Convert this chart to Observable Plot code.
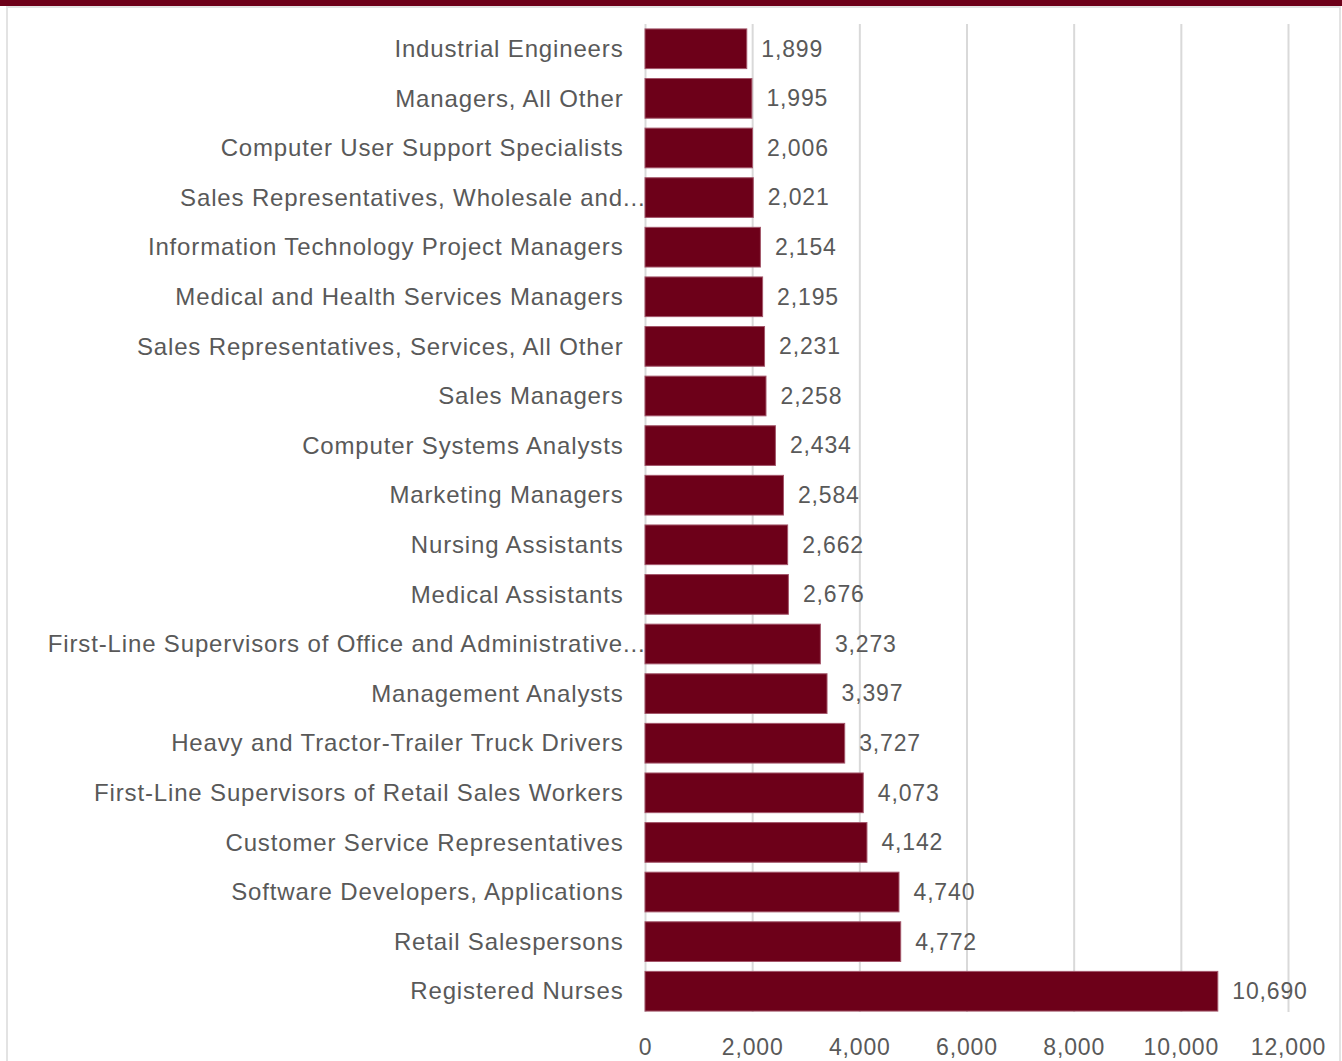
<!DOCTYPE html>
<html><head><meta charset="utf-8">
<script src="https://cdn.jsdelivr.net/npm/d3@7"></script>
<script src="https://cdn.jsdelivr.net/npm/@observablehq/plot@0.6"></script>
<style>
body{margin:0;background:#fff;}
#wrap{position:relative;width:1342px;height:1061px;overflow:hidden;background:#fff;}
#band{position:absolute;left:0;top:0;width:1342px;height:6px;background:#6d0019;}
#frame{position:absolute;left:6px;top:6px;width:1331px;height:1060px;border:2px solid #e3e3e3;border-bottom:none;}
#chart{position:absolute;left:0;top:0;}
</style></head><body>
<div id="wrap"><div id="frame"></div><div id="chart"></div><div id="band"></div></div>
<script>
const occupations = [
  "Industrial Engineers",
  "Managers, All Other",
  "Computer User Support Specialists",
  "Sales Representatives, Wholesale and...",
  "Information Technology Project Managers",
  "Medical and Health Services Managers",
  "Sales Representatives, Services, All Other",
  "Sales Managers",
  "Computer Systems Analysts",
  "Marketing Managers",
  "Nursing Assistants",
  "Medical Assistants",
  "First-Line Supervisors of Office and Administrative...",
  "Management Analysts",
  "Heavy and Tractor-Trailer Truck Drivers",
  "First-Line Supervisors of Retail Sales Workers",
  "Customer Service Representatives",
  "Software Developers, Applications",
  "Retail Salespersons",
  "Registered Nurses"
];
const openings = [1899, 1995, 2006, 2021, 2154, 2195, 2231, 2258, 2434, 2584, 2662, 2676, 3273, 3397, 3727, 4073, 4142, 4740, 4772, 10690];
const xTicks = [0, 2000, 4000, 6000, 8000, 10000, 12000];

const data = occupations.map((name, i) => ({name, value: openings[i]}));
const fmt = d3.format(",");
const truncated = d => d.endsWith("...");

const chart = Plot.plot({
  width: 1342,
  height: 1061,
  marginLeft: 645,
  marginRight: 54,
  marginTop: 19,
  marginBottom: 40,
  style: {fontFamily: "'Liberation Sans', Arial, sans-serif", fontSize: "24px", color: "#595959", background: "transparent", letterSpacing: "0.85px", overflow: "visible"},
  x: {domain: [0, 12000], ticks: xTicks, tickFormat: fmt, label: null},
  y: {domain: occupations, padding: 0.2, round: false, label: null, axis: null},
  marks: [
    Plot.ruleX(xTicks, {stroke: "#d9d9d9", strokeWidth: 2, insetTop: 5, insetBottom: 9}),
    Plot.barX(data, {x: "value", y: "name", fill: "#6d0019", stroke: "#a3566a", strokeWidth: 1}),
    Plot.text(data, {x: "value", y: "name", text: d => fmt(d.value), dx: 14, textAnchor: "start", fill: "#595959", fontSize: 23}),
    Plot.text(occupations.filter(d => !truncated(d)), {y: d => d, text: d => d, frameAnchor: "left", textAnchor: "end", dx: -22, fill: "#595959", fontSize: 24}),
    Plot.text(occupations.filter(truncated), {y: d => d, text: d => d, frameAnchor: "left", textAnchor: "end", dx: 0, fill: "#595959", fontSize: 24, letterSpacing: "0.7px"}),
    Plot.axisX({ticks: xTicks, tickFormat: fmt, tickSize: 0, tickPadding: 17, fontSize: 23, fill: "#595959", label: null})
  ]
});
document.getElementById("chart").appendChild(chart);
</script>
</body></html>
